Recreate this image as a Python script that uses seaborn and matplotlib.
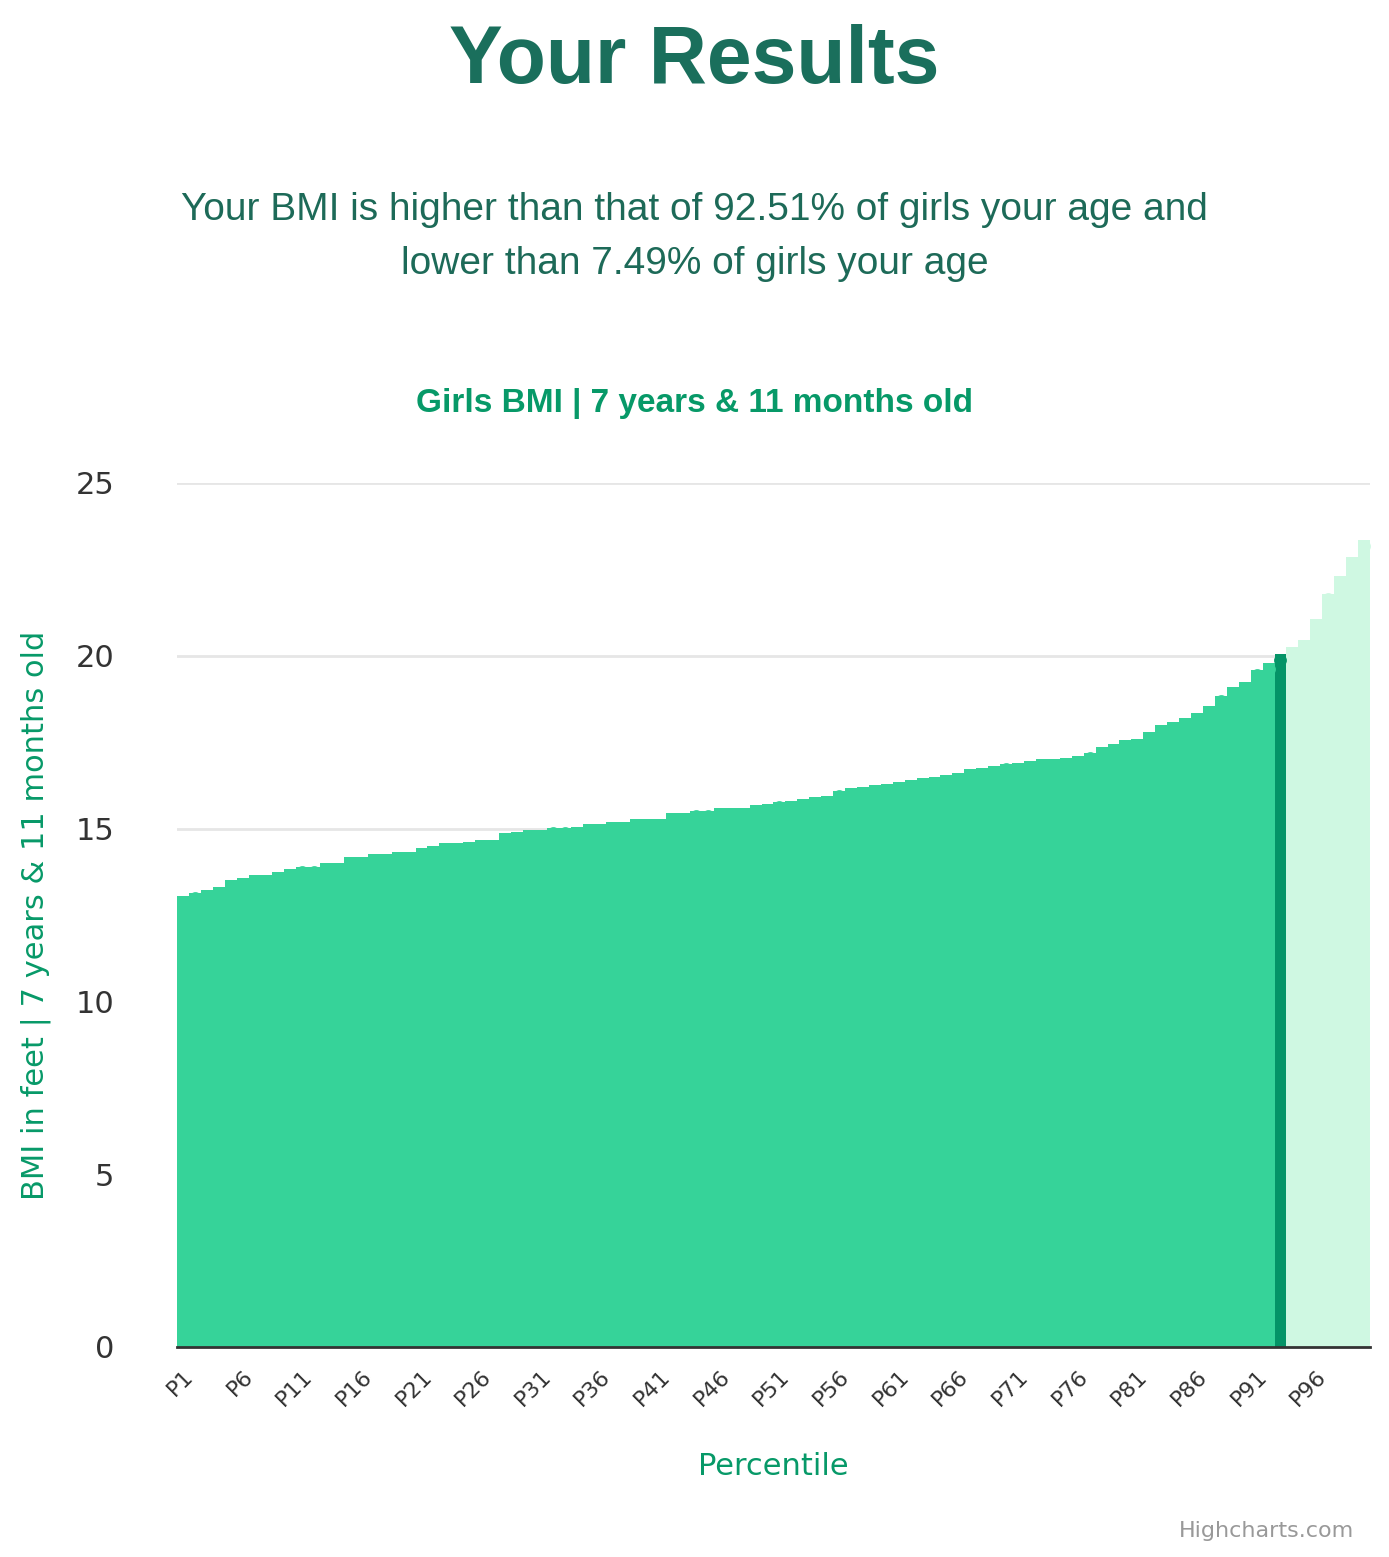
import matplotlib
matplotlib.use("Agg")
import matplotlib.pyplot as plt
import seaborn as sns
import pandas as pd
import numpy as np

percentiles = [f"P{i}" for i in range(1, 101)]
bmi = [13.05, 13.15, 13.22, 13.3, 13.5, 13.58, 13.65, 13.65, 13.75, 13.82,
       13.9, 13.9, 14.0, 14.0, 14.18, 14.18, 14.25, 14.25, 14.33, 14.33,
       14.43, 14.5, 14.57, 14.57, 14.62, 14.68, 14.68, 14.88, 14.9, 14.95,
       14.95, 15.03, 15.03, 15.05, 15.12, 15.12, 15.2, 15.2, 15.28, 15.28,
       15.28, 15.45, 15.45, 15.52, 15.52, 15.6, 15.6, 15.6, 15.68, 15.7,
       15.78, 15.8, 15.85, 15.92, 15.95, 16.1, 16.18, 16.2, 16.25, 16.3,
       16.35, 16.4, 16.45, 16.5, 16.55, 16.6, 16.72, 16.75, 16.8, 16.88,
       16.9, 16.95, 17.0, 17.0, 17.05, 17.1, 17.2, 17.35, 17.45, 17.55,
       17.6, 17.8, 18.0, 18.08, 18.2, 18.35, 18.55, 18.85, 19.1, 19.25,
       19.6, 19.8, 20.05, 20.25, 20.45, 21.05, 21.8, 22.3, 22.85, 23.35]
user_percentile = "P93"

df = pd.DataFrame({"p": percentiles, "bmi": bmi})
idx = percentiles.index(user_percentile)
base, hi, light = "#36d399", "#049467", "#cff8e2"
colors = [base if i < idx else (hi if i == idx else light) for i in range(len(percentiles))]

fig = plt.figure(figsize=(13.89, 15.57), dpi=100)
ax = fig.add_axes([0.1274, 0.1349, 0.8589, 0.5549])
sns.barplot(data=df, x="p", y="bmi", hue="p", palette=colors, legend=False,
            width=1.0, ax=ax, saturation=1)
for b in ax.patches:
    b.set_edgecolor("none")
# rounded caps
for i, v in enumerate(bmi):
    ax.scatter(i, v - 0.17, s=85, color=colors[i], zorder=3, linewidths=0)

ax.set_xlim(-0.5, len(percentiles) - 0.5)
ax.set_ylim(0, 25)
ax.set_yticks([0, 5, 10, 15, 20, 25])
ax.tick_params(axis="y", labelsize=22, colors="#333333", length=0, pad=45)
ax.yaxis.grid(True, color="#e6e6e6", linewidth=2)
ax.set_axisbelow(True)
ticks = list(range(0, 100, 5))
ax.set_xticks(ticks)
ax.set_xticklabels([percentiles[i] for i in ticks], rotation=45, ha="right",
                   rotation_mode="anchor", fontsize=16, color="#333333")
ax.tick_params(axis="x", length=0, pad=14)
for s in ["top", "right", "left"]:
    ax.spines[s].set_visible(False)
ax.spines["bottom"].set_color("#333333")
ax.spines["bottom"].set_linewidth(2)
ax.set_xlabel("Percentile", fontsize=22, color="#079968", labelpad=30)
ax.set_ylabel("BMI in feet | 7 years & 11 months old", fontsize=22, color="#079968", labelpad=18)

fig.text(0.5, 0.96, "Your Results", ha="center", va="center", fontsize=58,
         fontweight="bold", color="#1a6f5c", family="Liberation Sans")
fig.text(0.5, 0.848, "Your BMI is higher than that of 92.51% of girls your age and\nlower than 7.49% of girls your age",
         ha="center", va="center", fontsize=28, color="#1d6a58", linespacing=1.65,
         family="Liberation Sans")
fig.text(0.5, 0.741, "Girls BMI | 7 years & 11 months old", ha="center", va="center",
         fontsize=24, fontweight="bold", color="#079968", family="Liberation Sans")
fig.text(0.975, 0.017, "Highcharts.com", ha="right", va="center", fontsize=16, color="#999999")
fig.savefig("out.png", dpi=100)
